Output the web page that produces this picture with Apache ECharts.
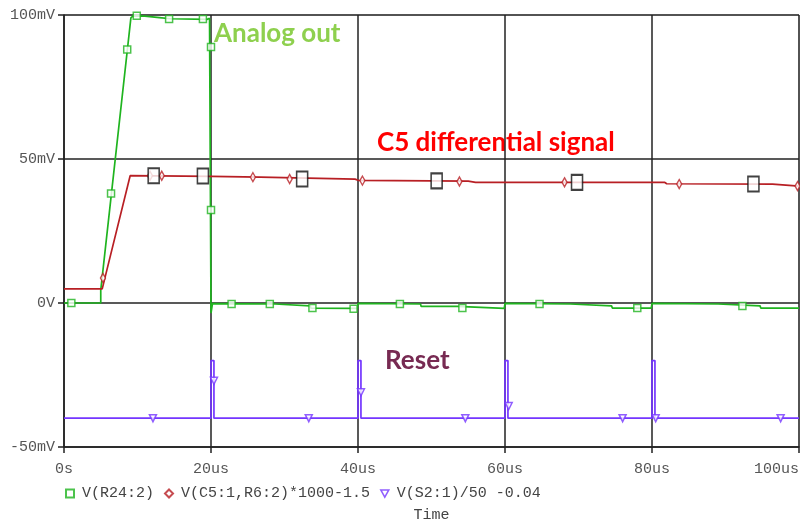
<!DOCTYPE html>
<html>
<head>
<meta charset="utf-8">
<script src="https://cdn.jsdelivr.net/npm/echarts@6/dist/echarts.min.js"></script>
<style>html,body{margin:0;padding:0;background:#fff;overflow:hidden}#c{width:800px;height:522px}</style>
</head>
<body>
<div id="c"></div>
<script>
// time in microseconds, values in mV
const xTickLabels = {0:'0s',20:'20us',40:'40us',60:'60us',80:'80us',100:'100us'};
const yTickLabels = {'-50':'-50mV','0':'0V','50':'50mV','100':'100mV'};

const analogOut = [[0,0],[5.0,0],[5.0,4.5],[9.1,99],[9.4,99.7],[11,99.6],[13,99.1],[14.5,98.7],[19.5,98.5],[19.8,98.9],[20,98.5],[20,-3.5],[20.1,-3.5],[20.2,-0.2],
 [28.7,-0.35],[28.8,-1.0],[33.5,-1.0],[33.6,-1.8],[39.9,-1.9],[40,-0.1],[48.5,-0.35],[48.6,-1.2],[53.5,-1.2],[53.6,-1.8],[59.9,-1.9],
 [60,-0.1],[68.9,-0.35],[69,-1.0],[74.5,-1.0],[74.6,-1.75],[79.9,-1.8],[80,-0.1],[89,-0.35],[89.1,-1.0],[94.7,-1.0],[94.8,-1.75],[100,-1.75]];
const analogMarks = [[1,0],[6.4,38],[8.6,88],[9.9,99.7],[14.3,98.6],[18.9,98.6],[20,88.9],[20,32.3],[22.8,-0.35],[28,-0.35],[33.8,-1.7],[39.4,-2],[45.7,-0.35],[54.2,-1.7],[64.7,-0.35],[78,-1.7],[92.3,-1.0]];

const c5Signal = [[0,4.9],[5.2,4.9],[5.2,5.5],[9.0,44.2],[20,44.0],[26.7,43.7],[26.9,43.1],[39.6,43.0],[40,42.6],[55,42.3],[56,41.9],[81.7,41.9],[82,41.4],[96.4,41.3],[96.6,40.7],[100,40.6]];
const c5Marks = [[5.3,8.7],[11.7,44.2],[13.3,44.2],[25.7,43.7],[30.7,43.05],[40.6,42.5],[53.8,42.2],[68.1,41.9],[83.7,41.3],[99.8,40.6]];
const cursorMarks = [[12.2,44.2],[18.9,44.1],[32.4,43.05],[50.7,42.4],[69.8,41.9],[93.8,41.3]];

const resetSig = [[0,-40],[20,-40],[20,-20],[20.4,-20],[20.4,-40],[40,-40],[40,-20],[40.4,-20],[40.4,-40],[60,-40],[60,-20],[60.4,-20],[60.4,-40],[80,-40],[80,-20],[80.4,-20],[80.4,-40],[100,-40]];
const resetMarks = [[12.1,-40],[20.4,-27],[33.3,-40],[40.4,-31],[54.6,-40],[60.5,-35.8],[76,-40],[80.5,-40],[97.5,-40]];

const names = ['V(R24:2)','V(C5:1,R6:2)*1000-1.5','V(S2:1)/50 -0.04'];
const GREEN='#1fb41f', RED='#b81f24', PURPLE='#7436ff';
const mono = 'Liberation Mono';
const DOWN_TRI = 'path://M0,0L10,0L5,9Z';

const chart = echarts.init(document.getElementById('c'), null, {renderer:'canvas'});
chart.setOption({
  animation:false,
  backgroundColor:'#fff',
  grid:{left:64, right:1, top:15, bottom:75, outerBoundsMode:'none', containLabel:false,
    show:true, borderColor:'#cfcfcf', borderWidth:1},
  xAxis:{type:'value', min:0, max:100, interval:20,
    name:'Time', nameLocation:'middle', nameGap:61,
    nameTextStyle:{fontFamily:mono, fontSize:15, color:'#444'},
    axisLine:{show:true, onZero:false, lineStyle:{color:'#222', width:1.5}},
    axisTick:{show:true, length:6, lineStyle:{color:'#222', width:1.5}},
    axisLabel:{fontFamily:mono, fontSize:15, color:'#555', margin:15, alignMaxLabel:'right',
      formatter:v=>xTickLabels[v]},
    splitLine:{show:true, lineStyle:{color:'#222', width:1.5}}},
  yAxis:{type:'value', min:-50, max:100, interval:50,
    axisLine:{show:true, onZero:false, lineStyle:{color:'#222', width:1.5}},
    axisTick:{show:true, length:6, lineStyle:{color:'#222', width:1.5}},
    axisLabel:{fontFamily:mono, fontSize:15, color:'#555', margin:9, formatter:v=>yTickLabels[String(v)]},
    splitLine:{show:true, lineStyle:{color:'#222', width:1.5}}},
  legend:{left:60, top:481, itemGap:10, itemWidth:8, itemHeight:8,
    textStyle:{fontFamily:mono, fontSize:15, color:'#444', padding:[0,0,0,3]},
    data:[{name:names[0]},{name:names[1]},
      {name:names[2], icon:DOWN_TRI, itemStyle:{color:'#fff', borderColor:PURPLE, borderWidth:1.5}}]},
  graphic:[
    {type:'text', left:214, top:21, style:{text:'Analog out', fill:'#8ed04e', font:'bold 26px Lato'}},
    {type:'text', left:377, top:130, style:{text:'C5 differential signal', fill:'#ff0000', font:'bold 26px Lato'}},
    {type:'text', left:385, top:348, style:{text:'Reset', fill:'#772a52', font:'bold 26px Lato'}}
  ],
  series:[
    {name:'g', type:'line', data:analogOut, showSymbol:false, lineStyle:{color:GREEN, width:1.7}, z:3},
    {name:'r', type:'line', data:c5Signal, showSymbol:false, lineStyle:{color:RED, width:1.7}, z:3},
    {name:'p', type:'line', data:resetSig, showSymbol:false, lineStyle:{color:PURPLE, width:1.7}, z:3},
    {name:names[0], type:'scatter', data:analogMarks, symbol:'rect', symbolSize:7,
      itemStyle:{color:'#fff', borderColor:GREEN, borderWidth:1.5}, z:4},
    {name:names[1], type:'scatter', data:c5Marks, symbol:'diamond', symbolSize:[5,9],
      itemStyle:{color:'#fff', borderColor:RED, borderWidth:1.5}, z:4},
    {name:names[2], type:'scatter', data:resetMarks, symbol:'triangle', symbolRotate:180, symbolSize:7,
      itemStyle:{color:'#fff', borderColor:PURPLE, borderWidth:1.5}, z:4},
    {name:'cursor', type:'scatter', data:cursorMarks, symbol:'rect', symbolSize:[11,15],
      itemStyle:{color:'#fff', borderColor:'#111', borderWidth:1.8}, z:5}
  ]
});
</script>
</body>
</html>
